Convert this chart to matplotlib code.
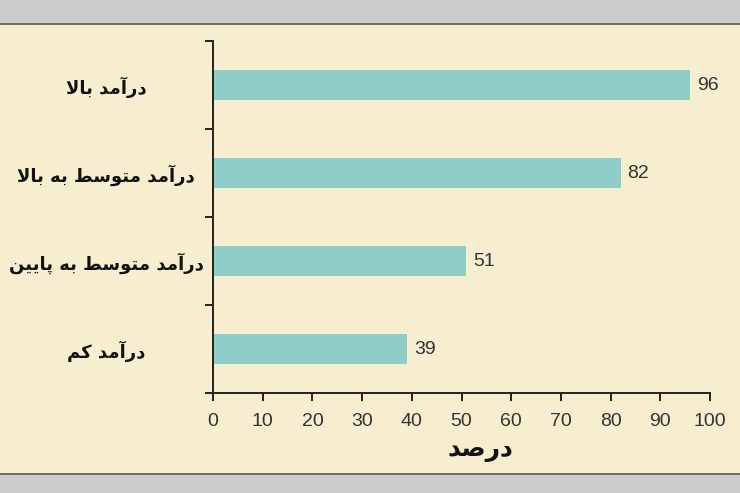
import matplotlib
matplotlib.use("Agg")
import matplotlib.pyplot as plt
from matplotlib.patches import Rectangle
from matplotlib.lines import Line2D
import numpy as np

# ---------------- data ----------------
categories = ["درآمد کم", "درآمد متوسط به پایین", "درآمد متوسط به بالا", "درآمد بالا"]
values = [39, 51, 82, 96]
xticks = [0, 10, 20, 30, 40, 50, 60, 70, 80, 90, 100]
xlabel = "درصد"

# ---------------- Arabic/Persian shaping (presentation forms, visual order) ----------------
FORMS = {
    '\u0627': ('\uFE8D', '\uFE8E', None, None),
    '\u0622': ('\uFE81', '\uFE82', None, None),
    '\u0628': ('\uFE8F', '\uFE90', '\uFE91', '\uFE92'),
    '\u067E': ('\uFB56', '\uFB57', '\uFB58', '\uFB59'),
    '\u062A': ('\uFE95', '\uFE96', '\uFE97', '\uFE98'),
    '\u062F': ('\uFEA9', '\uFEAA', None, None),
    '\u0631': ('\uFEAD', '\uFEAE', None, None),
    '\u0633': ('\uFEB1', '\uFEB2', '\uFEB3', '\uFEB4'),
    '\u0635': ('\uFEB9', '\uFEBA', '\uFEBB', '\uFEBC'),
    '\u0637': ('\uFEC1', '\uFEC2', '\uFEC3', '\uFEC4'),
    '\u0644': ('\uFEDD', '\uFEDE', '\uFEDF', '\uFEE0'),
    '\u0645': ('\uFEE1', '\uFEE2', '\uFEE3', '\uFEE4'),
    '\u0646': ('\uFEE5', '\uFEE6', '\uFEE7', '\uFEE8'),
    '\u0647': ('\uFEE9', '\uFEEA', '\uFEEB', '\uFEEC'),
    '\u0648': ('\uFEED', '\uFEEE', None, None),
    '\u06A9': ('\uFB8E', '\uFB8F', '\uFB90', '\uFB91'),
    '\u06CC': ('\uFBFC', '\uFBFD', '\uFBFE', '\uFBFF'),
}
LAMALEF = {'\u0627': ('\uFEFB', '\uFEFC'), '\u0622': ('\uFEF5', '\uFEF6')}


def shape(text):
    # merge lam-alef
    toks = []
    i = 0
    while i < len(text):
        c = text[i]
        if c == '\u0644' and i + 1 < len(text) and text[i + 1] in LAMALEF:
            toks.append(('LA', text[i + 1]))
            i += 2
        else:
            toks.append(('C', c))
            i += 1

    def dual(t):
        if t is None:
            return False
        if t[0] == 'LA':
            return False
        f = FORMS.get(t[1])
        return f is not None and f[2] is not None

    def arabic(t):
        return t is not None and (t[0] == 'LA' or t[1] in FORMS)

    out = []
    for k, t in enumerate(toks):
        prev = toks[k - 1] if k > 0 else None
        nxt = toks[k + 1] if k + 1 < len(toks) else None
        if not arabic(t):
            out.append(t[1])
            continue
        jp = dual(prev)
        if t[0] == 'LA':
            out.append(LAMALEF[t[1]][1 if jp else 0])
            continue
        f = FORMS[t[1]]
        jn = f[2] is not None and arabic(nxt)
        if jp and jn:
            out.append(f[3])
        elif jp:
            out.append(f[1])
        elif jn:
            out.append(f[2])
        else:
            out.append(f[0])
    return ''.join(out)[::-1]


# ---------------- style ----------------
BG = "#f7eecf"
BAR = "#8ecdc8"
GRAY = "#cbcbcb"
DARK = "#222222"
TXT = "#333333"
NUMFONT = ["Liberation Sans", "DejaVu Sans"]
FAFONT = ["DejaVu Sans"]

fig = plt.figure(figsize=(7.4, 4.93), dpi=100)
fig.patch.set_facecolor(BG)

# gray bands top / bottom
fig.patches.append(Rectangle((0, 1 - 23 / 493), 1, 23 / 493, transform=fig.transFigure,
                             facecolor=GRAY, edgecolor="none", zorder=0))
fig.patches.append(Rectangle((0, 0), 1, 18 / 493, transform=fig.transFigure,
                             facecolor=GRAY, edgecolor="none", zorder=0))
fig.lines.append(Line2D([0, 1], [1 - 24 / 493] * 2, transform=fig.transFigure,
                        color="#555555", lw=1.2))
fig.lines.append(Line2D([0, 1], [19 / 493] * 2, transform=fig.transFigure,
                        color="#555555", lw=1.2))

ax = fig.add_axes([213 / 740, 100 / 493, 497 / 740, 352 / 493])
ax.set_facecolor(BG)

y = np.arange(len(categories))
bars = ax.barh(y, values, height=0.34, color=BAR, zorder=2)

ax.set_xlim(0, 100)
ax.set_ylim(-0.5, len(categories) - 0.5)

for s in ["top", "right"]:
    ax.spines[s].set_visible(False)
for s in ["left", "bottom"]:
    ax.spines[s].set_color(DARK)
    ax.spines[s].set_linewidth(1.4)

ax.set_xticks(xticks)
ax.set_xticklabels([str(v) for v in xticks], fontfamily=NUMFONT, fontsize=14, color=TXT)
ax.tick_params(axis="x", length=5.5, width=1.4, color=DARK, pad=9)

ax.set_yticks(y)
ax.set_yticklabels([shape(c) for c in categories], fontfamily=FAFONT,
                   fontweight="bold", fontsize=13, color="#111111", ha="center")
ax.tick_params(axis="y", which="major", length=0, pad=77)
ax.set_yticks(np.arange(-0.5, len(categories), 1.0), minor=True)
ax.tick_params(axis="y", which="minor", length=5.5, width=1.4, color=DARK)

ax.bar_label(bars, labels=[str(v) for v in values], padding=5,
             fontfamily=NUMFONT, fontsize=14, color=TXT)

fig.text(480 / 740, 1 - 450 / 493, shape(xlabel), ha="center", va="center",
         fontfamily=FAFONT, fontweight="bold", fontsize=18, color="#111111")

fig.savefig("out.png", dpi=100, facecolor=BG)
